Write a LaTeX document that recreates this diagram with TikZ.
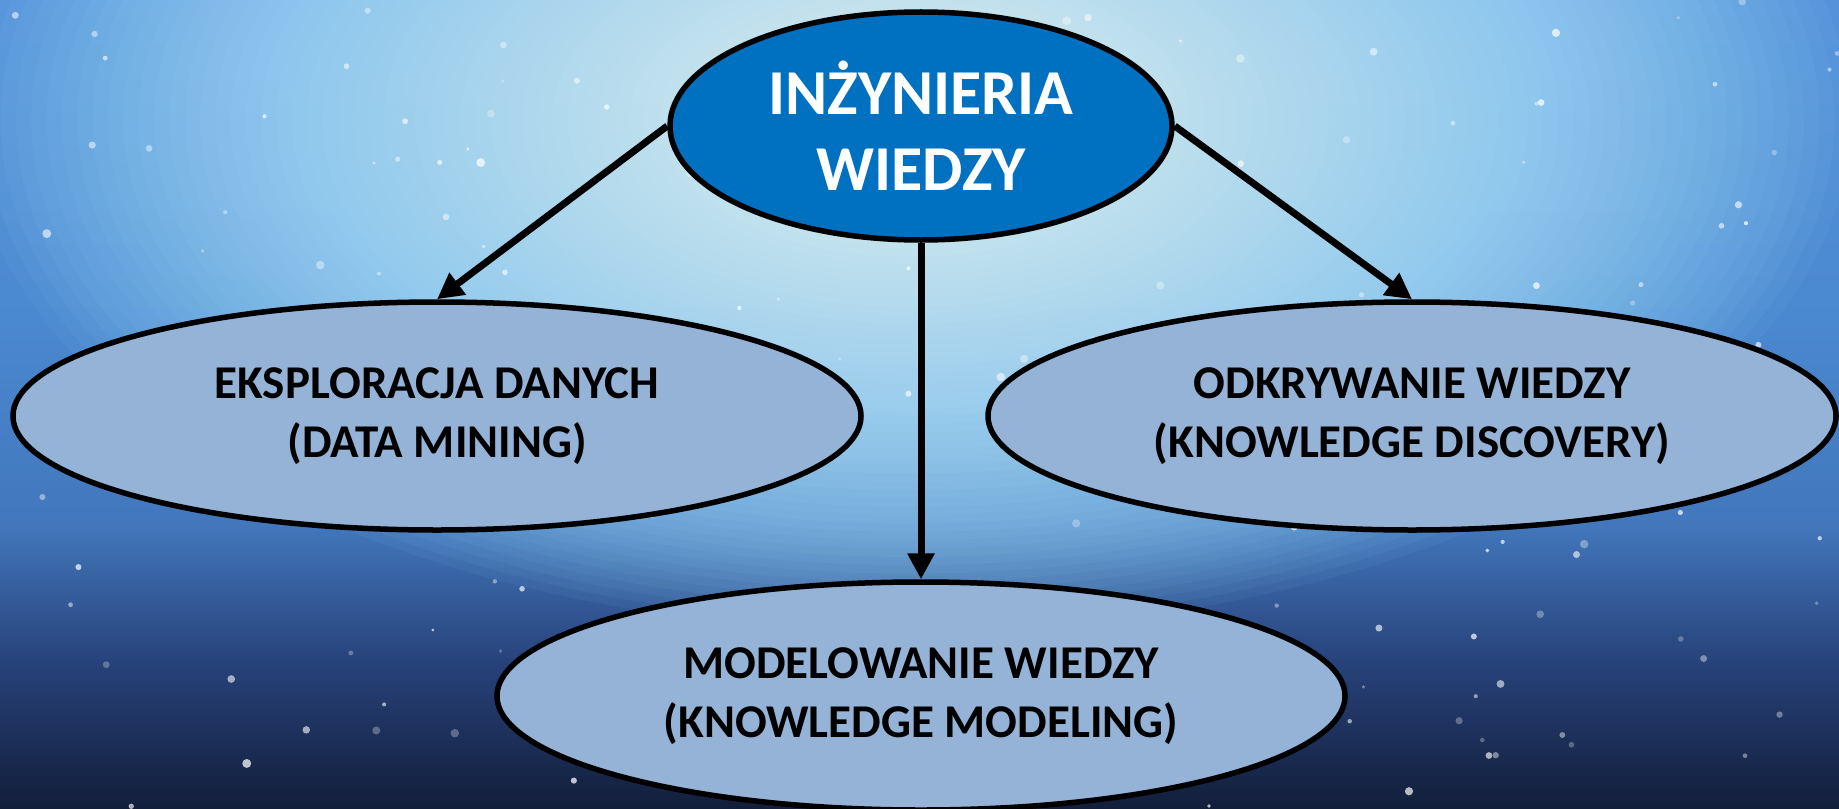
\documentclass[tikz,border=0pt]{standalone}
\usepackage{fontspec}
\setmainfont{Carlito}
\usetikzlibrary{shapes.geometric,arrows.meta}
\definecolor{topblue}{HTML}{0070C0}
\definecolor{childblue}{HTML}{95B3D7}
\definecolor{bgtop}{HTML}{5592DA}
\definecolor{bgmidA}{HTML}{4A88D0}
\definecolor{bgmidB}{HTML}{4277BC}
\definecolor{bgmidC}{HTML}{27427A}
\definecolor{bgbot}{HTML}{121E3A}
\definecolor{glowcyan}{HTML}{9EE0FF}
% the path is mapped onto 25bp..75bp of the shading
\pgfdeclareverticalshading{sky}{100bp}{color(0bp)=(bgbot); color(25bp)=(bgbot); color(34bp)=(bgmidC); color(42.5bp)=(bgmidB); color(55bp)=(bgmidA); color(75bp)=(bgtop); color(100bp)=(bgtop)}
\begin{document}
\begin{tikzpicture}[x=0.5pt,y=-0.5pt,
  mainell/.style={ellipse, draw=black, line width=2.75pt, fill=topblue,
    minimum width=251pt, minimum height=114pt, inner sep=0pt, text=white,
    font=\fontsize{32}{38}\selectfont\bfseries, align=center},
  childell/.style={ellipse, draw=black, line width=2.75pt, fill=childblue,
    minimum width=424pt, minimum height=114pt, inner sep=0pt, text=black,
    font=\fontsize{23.5}{29.5}\selectfont\bfseries, align=center},
  link/.style={line width=3.5pt, -{Triangle[length=13pt,width=13pt]}},
  star/.style={fill=white}]
\useasboundingbox (0,0) rectangle (1839,808);
% sky background
\shade[shading=sky] (0,0) rectangle (1839,808);
\begin{scope}
\clip (0,0) rectangle (1839,808);
\foreach \i in {0,...,59}{
  \pgfmathsetmacro\rx{920*(1-\i/60)+20}
  \pgfmathsetmacro\ry{500*(1-\i/60)+12}
  \pgfmathtruncatemacro\mix{min(100,\i*1.8)}
  \fill[white!\mix!glowcyan, opacity=0.055] (910,120) ellipse ({\rx} and {\ry});
}
\pgfmathsetseed{17}
\foreach \k in {1,...,170}{
  \pgfmathsetmacro\sx{rnd*1839}
  \pgfmathsetmacro\sy{rnd*808}
  \pgfmathsetmacro\sr{1.5+rnd*3}
  \pgfmathsetmacro\so{0.25+rnd*0.5}
  \fill[star, opacity=\so] (\sx,\sy) circle ({\sr});
}
\end{scope}
% nodes
\node[mainell] (top) at (921,126) {INŻYNIERIA\\WIEDZY};
\node[childell] (left) at (437,416) {EKSPLORACJA DANYCH\\(DATA MINING)};
\node[childell] (right) at (1412,416) {ODKRYWANIE WIEDZY\\(KNOWLEDGE DISCOVERY)};
\node[childell] (mid) at (921,696) {MODELOWANIE WIEDZY\\(KNOWLEDGE MODELING)};
% connectors
\draw[link] (top.west) -- (left.north);
\draw[link] (top.south) -- (mid.north);
\draw[link] (top.east) -- (right.north);
\end{tikzpicture}
\end{document}
